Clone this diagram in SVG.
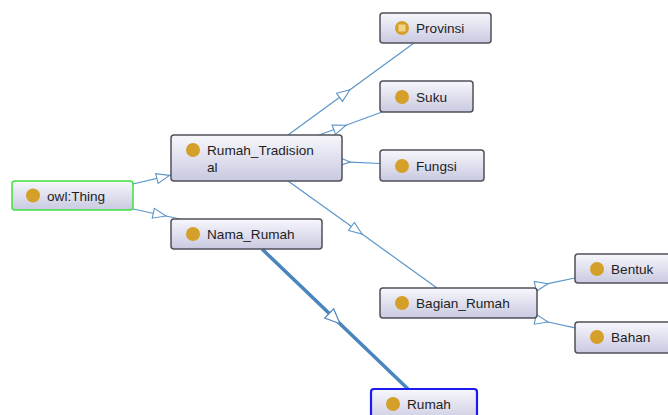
<svg xmlns="http://www.w3.org/2000/svg" width="668" height="415" viewBox="0 0 668 415">
<style>
.box{stroke:#505058;stroke-width:1.5;fill:url(#g)}
.thing{stroke:#3fe03f;stroke-width:1.5;fill:url(#g)}
.sel{stroke:#1c1cf0;stroke-width:2.2;fill:url(#g)}
.ic{fill:#d4a02a}
.t{font-family:"Liberation Sans",Arial,sans-serif;font-size:13.6px;fill:#1e1e1e}
.e{fill:none;stroke:#5b95c9;stroke-width:1.2;marker-mid:url(#a)}
.et{fill:none;stroke:#4a85bd;stroke-width:3.5;marker-mid:url(#ab)}
</style>
<defs>
<linearGradient id="g" x1="0" y1="0" x2="0" y2="1">
<stop offset="0" stop-color="#f7f7fc"/>
<stop offset="1" stop-color="#c9c9e1"/>
</linearGradient>
<marker id="a" viewBox="-15 -8 17 16" refX="0" refY="0" markerWidth="17" markerHeight="16" markerUnits="userSpaceOnUse" orient="auto">
<path d="M0,0 L-13,-5 L-13,5 Z" fill="#fff" stroke="#5b95c9" stroke-width="1.1"/>
</marker>
<marker id="ab" viewBox="-17 -9 19 18" refX="0" refY="0" markerWidth="19" markerHeight="18" markerUnits="userSpaceOnUse" orient="auto">
<path d="M0,0 L-15,-6.5 L-15,6.5 Z" fill="#fff" stroke="#4a85bd" stroke-width="1.2"/>
</marker>
</defs>
<g id="edges">
<path class="e" d="M133,184 L169.5,175.4 L171,175"/>
<path class="e" d="M133,209 L166,216 L180,219"/>
<path class="e" d="M288,135 L350,89.7 L414,43"/>
<path class="e" d="M319,135 L346,125.2 L382,112"/>
<path class="e" d="M342,161.7 L350,162.1 L380,163.5"/>
<path class="e" d="M288,181 L362,234 L437,288"/>
<path class="et" d="M262,249 L340,323.8 L408,389"/>
<path class="e" d="M537,286 L548,283.7 L575,278"/>
<path class="e" d="M537,319.7 L548,322 L575,327.8"/>
</g>
<g id="owl-thing">
<rect class="thing" x="12" y="181" width="121" height="29" rx="3"/>
<circle class="ic" cx="33" cy="195.5" r="7"/>
<text class="t" x="47" y="200.5">owl:Thing</text>
</g>
<g id="rumah-tradisional">
<rect class="box" x="171" y="135" width="171" height="46" rx="3"/>
<circle class="ic" cx="193" cy="150" r="7"/>
<text class="t" x="207" y="154.5">Rumah_Tradision</text>
<text class="t" x="207" y="171.5">al</text>
</g>
<g id="nama-rumah">
<rect class="box" x="171" y="219" width="151" height="30" rx="3"/>
<circle class="ic" cx="193" cy="234" r="7"/>
<text class="t" x="207" y="239">Nama_Rumah</text>
</g>
<g id="provinsi">
<rect class="box" x="380" y="13" width="111" height="30" rx="3"/>
<circle class="ic" cx="402" cy="28" r="7"/>
<rect x="398.5" y="24.5" width="7" height="7" fill="#efd48a"/>
<text class="t" x="416" y="33">Provinsi</text>
</g>
<g id="suku">
<rect class="box" x="380" y="81" width="93" height="31" rx="3"/>
<circle class="ic" cx="402" cy="97" r="7"/>
<text class="t" x="416" y="101.5">Suku</text>
</g>
<g id="fungsi">
<rect class="box" x="380" y="150" width="104" height="31" rx="3"/>
<circle class="ic" cx="402" cy="166" r="7"/>
<text class="t" x="416" y="170.5">Fungsi</text>
</g>
<g id="bagian-rumah">
<rect class="box" x="380" y="288" width="157" height="30" rx="3"/>
<circle class="ic" cx="402" cy="303" r="7"/>
<text class="t" x="416" y="308">Bagian_Rumah</text>
</g>
<g id="bentuk">
<rect class="box" x="575" y="254" width="100" height="29" rx="3"/>
<circle class="ic" cx="597" cy="269" r="7"/>
<text class="t" x="611" y="274">Bentuk</text>
</g>
<g id="bahan">
<rect class="box" x="575" y="322" width="100" height="31" rx="3"/>
<circle class="ic" cx="597" cy="337" r="7"/>
<text class="t" x="611" y="342">Bahan</text>
</g>
<g id="rumah">
<rect class="sel" x="371" y="389" width="106" height="34" rx="3"/>
<circle class="ic" cx="393" cy="404" r="7"/>
<text class="t" x="407" y="409">Rumah</text>
</g>
</svg>
